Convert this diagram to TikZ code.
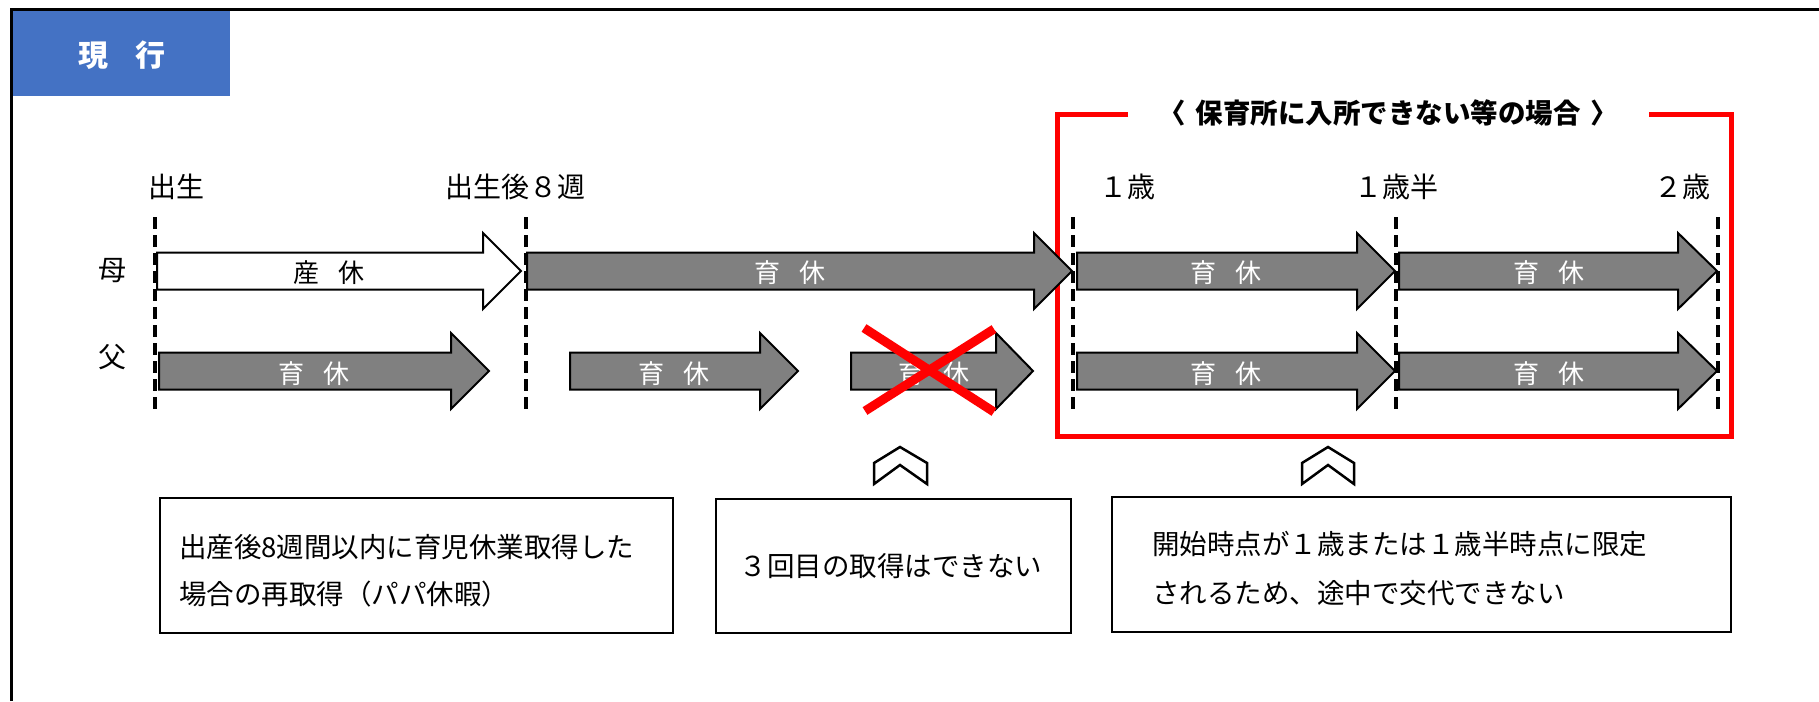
\documentclass[tikz,border=0pt]{standalone}
\usepackage{fontspec}
\setmainfont{Noto Sans CJK JP}
\definecolor{headblue}{HTML}{4472C4}
\definecolor{arrowgray}{HTML}{808080}
\definecolor{pured}{HTML}{FF0000}
\newcommand{\gp}{\hspace{0.7em}}
\newcommand{\barrow}[5]{% #1 style, #2 x left, #3 x head base, #4 x tip, #5 y centre
  \draw[#1] (#2,#5-18.5) -- (#3,#5-18.5) -- (#3,#5-38) -- (#4,#5) -- (#3,#5+38) -- (#3,#5+18.5) -- (#2,#5+18.5) -- cycle;}
\tikzset{
  frameline/.style={line width=3.5pt, black},
  dline/.style={line width=3.5pt, black, dash pattern=on 12pt off 6pt},
  whitearrow/.style={fill=white, draw=black, line width=2pt, line join=miter},
  grayarrow/.style={fill=arrowgray, draw=black, line width=2pt, line join=miter},
  arrowtext/.style={inner sep=0pt, text=white, font=\fontsize{26}{30}\selectfont},
  lbl/.style={inner sep=0pt, font=\fontsize{28}{32}\selectfont},
  boxtext/.style={inner sep=0pt, anchor=west, font=\fontsize{27.5}{32}\selectfont},
  notebox/.style={draw=black, line width=2pt, fill=white},
  chevron/.style={draw=black, line width=2.5pt, fill=white, line join=miter},
  redline/.style={draw=pured, line width=5pt},
  cross/.style={draw=pured, line width=9pt},
}
\begin{document}
\begin{tikzpicture}[x=1pt, y=-1pt]
\useasboundingbox (0,0) rectangle (1819,701);
% header
\fill[headblue] (11,9) rectangle (230,96);
\node[inner sep=0pt, text=white, font=\fontsize{30}{34}\selectfont\bfseries] (title) at (122,55) {現\hspace{0.9em}行};
\draw[frameline] (11.5,701) -- (11.5,9.5) -- (1819,9.5);

% timeline labels
\node[lbl] (birth) at (176,187) {出生};
\node[lbl] (w8) at (515,187) {出生後８週};
\node[lbl] (y1) at (1127,187) {１歳};
\node[lbl] (y15) at (1396,187) {１歳半};
\node[lbl] (y2) at (1682,187) {２歳};
\node[lbl] (mother) at (112,271) {母};
\node[lbl] (father) at (112,357) {父};

% red frame
\node[inner sep=0pt, font=\fontsize{27.5}{32}\selectfont\bfseries] (cond) at (1388,113) {〈\hspace{0.35em}保育所に入所できない等の場合\hspace{0.35em}〉};
\coordinate (r1) at (1128,114);
\coordinate (r2) at (1057,114);
\coordinate (r3) at (1057,436);
\coordinate (r4) at (1731,436);
\coordinate (r5) at (1731,114);
\coordinate (r6) at (1649,114);
\draw[redline, line join=miter] (r1) -- (r2) -- (r3) -- (r4) -- (r5) -- (r6);

% mother arrows
\barrow{whitearrow}{157}{483}{521}{271}
\node[arrowtext, text=black] (m1) at (329,273) {産\gp 休};
\barrow{grayarrow}{527}{1034}{1072}{271}
\node[arrowtext] (m2) at (790,273) {育\gp 休};
\barrow{grayarrow}{1077}{1357}{1395}{271}
\node[arrowtext] (m3) at (1226,273) {育\gp 休};
\barrow{grayarrow}{1399}{1678}{1717}{271}
\node[arrowtext] (m4) at (1549,273) {育\gp 休};

% father arrows
\barrow{grayarrow}{159}{451}{489}{371}
\node[arrowtext] (f1) at (314,374) {育\gp 休};
\barrow{grayarrow}{570}{760}{798}{371}
\node[arrowtext] (f2) at (674,374) {育\gp 休};
\barrow{grayarrow}{851}{996}{1033}{371}
\node[arrowtext] (f3) at (934,374) {育\gp 休};
\barrow{grayarrow}{1077}{1357}{1395}{371}
\node[arrowtext] (f4) at (1226,374) {育\gp 休};
\barrow{grayarrow}{1399}{1678}{1717}{371}
\node[arrowtext] (f5) at (1549,374) {育\gp 休};

% dashed time markers
\foreach \i/\x in {1/155,2/526,3/1073,4/1396,5/1718}{
  \coordinate (d\i t) at (\x,217);
  \coordinate (d\i b) at (\x,413);
  \draw[dline] (d\i t) -- (d\i b);
}

% red cross
\coordinate (x1) at (864,328);
\coordinate (x2) at (994,412);
\coordinate (x3) at (865,411);
\coordinate (x4) at (994,329);
\draw[cross] (x1) -- (x2);
\draw[cross] (x3) -- (x4);

% chevrons
\draw[chevron] (874,463) -- (900,447) -- (927,463) -- (927,484) -- (900,465) -- (874,484) -- cycle;
\draw[chevron] (1302,463) -- (1328,447) -- (1354,463) -- (1354,484) -- (1328,465) -- (1302,484) -- cycle;

% note boxes
\draw[notebox] (160,498) rectangle (673,633);
\node[boxtext] (n1a) at (179,547) {出産後8週間以内に育児休業取得した};
\node[boxtext] (n1b) at (179,594) {場合の再取得（パパ休暇）};
\draw[notebox] (716,499) rectangle (1071,633);
\node[boxtext, anchor=center] (n2) at (891,566) {３回目の取得はできない};
\draw[notebox] (1112,497) rectangle (1731,632);
\node[boxtext] (n3a) at (1152,544) {開始時点が１歳または１歳半時点に限定};
\node[boxtext] (n3b) at (1152,593) {されるため、途中で交代できない};
\end{tikzpicture}
\end{document}
